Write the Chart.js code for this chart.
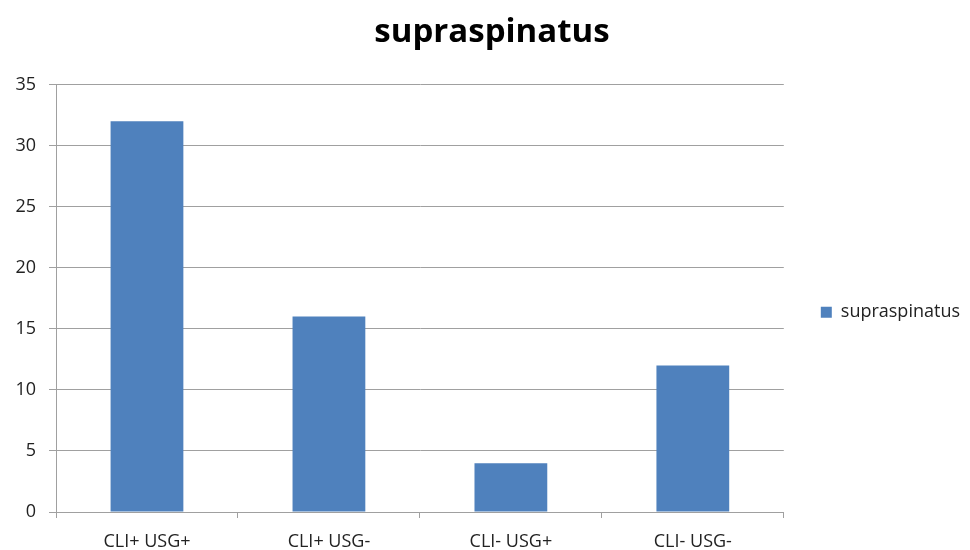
<!DOCTYPE html>
<html>
<head>
<meta charset="utf-8">
<script src="https://cdn.jsdelivr.net/npm/chart.js@4"></script>
<style>
  body { margin: 0; background: #fff; }
  #wrap { width: 970px; height: 550px; }
</style>
</head>
<body>
<div id="wrap"><canvas id="myChart" width="970" height="550"></canvas></div>
<script>
const categories = ['CLI+ USG+', 'CLI+ USG-', 'CLI- USG+', 'CLI- USG-'];
const values = [32, 16, 4, 12];
const seriesName = 'supraspinatus';
const yTicks = [0, 5, 10, 15, 20, 25, 30, 35];

const fontFam = "'Open Sans', 'Liberation Sans', sans-serif";

var ctx = document.getElementById('myChart');
var myChart = new Chart(ctx, {
    type: 'bar',
    data: {
        labels: categories,
        datasets: [{
            label: seriesName,
            data: values,
            backgroundColor: '#4F81BD',
            barPercentage: 0.4,
            categoryPercentage: 1.0
        }]
    },
    options: {
        responsive: false,
        animation: false,
        layout: { padding: { left: 14, right: 0, top: 0, bottom: 0 } },
        plugins: {
            title: {
                display: true,
                text: 'supraspinatus',
                color: '#000',
                font: { family: fontFam, size: 33, weight: 'bold' },
                padding: { top: 13, bottom: 32 }
            },
            legend: {
                position: 'right',
                title: {
                    display: true,
                    text: '',
                    padding: { top: 30, bottom: 30 }
                },
                labels: {
                    boxWidth: 11,
                    boxHeight: 11,
                    color: '#222',
                    font: { family: fontFam, size: 18 },
                    padding: 10
                }
            },
            tooltip: { enabled: false }
        },
        scales: {
            x: {
                grid: {
                    drawOnChartArea: false,
                    color: '#a0a0a0',
                    tickLength: 6,
                    offset: true
                },
                border: { color: '#a0a0a0' },
                ticks: {
                    color: '#222',
                    font: { family: fontFam, size: 18 },
                    padding: 13
                },
                afterFit: (axis) => { axis.height = 38; }
            },
            y: {
                min: 0,
                max: 35,
                afterBuildTicks: (axis) => {
                    axis.ticks = yTicks.map(v => ({ value: v }));
                },
                grid: {
                    color: '#a0a0a0',
                    tickLength: 7
                },
                border: { color: '#a0a0a0' },
                ticks: {
                    color: '#222',
                    font: { family: fontFam, size: 18 },
                    padding: 13
                },
                afterFit: (axis) => { axis.width = 42; }
            },
            gap: {
                type: 'linear',
                position: 'right',
                grid: { display: false },
                border: { display: false },
                ticks: { display: false },
                afterFit: (axis) => { axis.width = 27; }
            }
        }
    }
});
</script>
</body>
</html>
